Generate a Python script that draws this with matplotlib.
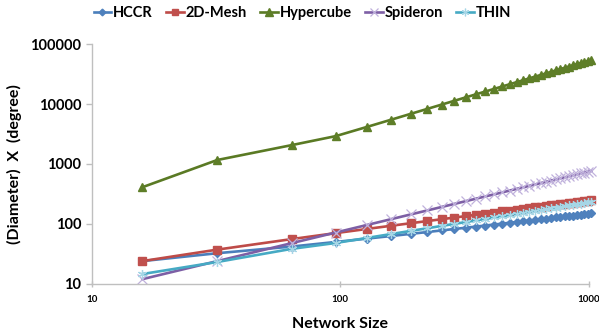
import matplotlib.pyplot as plt
from matplotlib.transforms import ScaledTranslation

plt.rcParams['font.family'] = ['Lato', 'DejaVu Sans']
plt.rcParams['font.weight'] = 'bold'

network_size = [16, 32, 64, 96, 128, 160, 192, 224, 256, 288, 320, 352, 384, 416, 448, 480,
                512, 544, 576, 608, 640, 672, 704, 736, 768, 800, 832, 864, 896, 928, 960, 992, 1024]

hccr = [24.0, 32.5, 42.0, 50.1, 56.9, 62.9, 68.3, 73.3, 78.0, 82.4, 86.5, 90.4, 94.2, 97.8, 101.2, 104.6,
        107.8, 110.9, 114.0, 116.9, 119.8, 122.6, 125.4, 128.1, 130.7, 133.3, 135.8, 138.3, 140.7, 143.1,
        145.4, 147.7, 150.0]

mesh_2d = [24, 37.3, 56, 70.4, 82.5, 93.2, 102.8, 111.7, 120, 127.8, 135.1, 142.1, 148.8, 155.2, 161.3,
           167.3, 173, 178.6, 184, 189.3, 194.4, 199.4, 204.3, 209, 213.7, 218.3, 222.8, 227.2, 231.5,
           235.7, 239.9, 244, 248]

hypercube = [410, 1165, 2070, 2920, 4150, 5470, 6860, 8300, 9800, 11340, 12930, 14550, 16200, 17900,
             19620, 21370, 23150, 24960, 26790, 28650, 30530, 32440, 34360, 36310, 38280, 40270, 42280,
             44300, 46350, 48400, 50480, 52570, 54690]

spideron = [12, 24, 48, 72, 96, 120, 144, 168, 192, 216, 240, 264, 288, 312, 336, 360, 384, 408, 432,
            456, 480, 504, 528, 552, 576, 600, 624, 648, 672, 696, 720, 744, 768]

thin = [14.6, 23.2, 38.5, 48.2, 58.4, 67.8, 76.5, 84.8, 92.7, 100.3, 107.6, 114.7, 121.5, 128.2, 134.7,
        141.0, 147.2, 153.2, 159.2, 165.1, 170.8, 176.5, 182.0, 187.5, 192.9, 198.2, 203.4, 208.6, 213.8,
        218.8, 223.8, 228.8, 233.7]

fig = plt.figure(figsize=(5.99, 3.34), dpi=100)
ax = fig.add_axes([0.153, 0.150, 0.830, 0.718])

lw = 1.9
ax.plot(network_size, hccr, color='#4a7ebb', lw=lw, marker='D', ms=4,
        mfc='#4f81bd', mec='#4f81bd', label='HCCR', clip_on=False)
ax.plot(network_size, mesh_2d, color='#be4b48', lw=lw, marker='s', ms=5.5,
        mfc='#c0504d', mec='#c0504d', label='2D-Mesh', clip_on=False)
ax.plot(network_size, hypercube, color='#5a7a24', lw=lw, marker='^', ms=6,
        mfc='#5e7e28', mec='#5e7e28', label='Hypercube', clip_on=False)
ax.plot(network_size, spideron, color='#7d5fa5', lw=lw, marker='x', ms=6.5, mew=0.9,
        mec='#c0b2dc', label='Spideron', clip_on=False)
ax.plot(network_size, thin, color='#46aac4', lw=lw, marker=(6, 2, 0), ms=6.5, mew=0.9,
        mec='#a6d6e6', label='THIN', clip_on=False)

ax.set_xscale('log')
ax.set_yscale('log')
ax.set_xlim(10, 1000)
ax.set_ylim(10, 100000)
ax.minorticks_off()

ax.set_xticks([10, 100, 1000])
ax.set_xticklabels(['10', '100', '1000'], fontsize=7, fontweight='bold')
ax.set_yticks([10, 100, 1000, 10000, 100000])
ax.set_yticklabels(['10', '100', '1000', '10000', '100000'], fontsize=10.5, fontweight='bold')

# pull the last x label in a little so it stays inside the figure
last = ax.get_xticklabels()[-1]
last.set_transform(last.get_transform() + ScaledTranslation(-3 / 100, 0, fig.dpi_scale_trans))

for side in ['top', 'right']:
    ax.spines[side].set_visible(False)
for side in ['left', 'bottom']:
    ax.spines[side].set_color('#bfbfbf')
    ax.spines[side].set_linewidth(1.0)
ax.tick_params(axis='both', color='#bfbfbf', length=4, width=1.0, direction='out')
ax.tick_params(axis='x', direction='inout', pad=6)

ax.set_xlabel('Network Size', fontsize=11.5, fontweight='bold', labelpad=9)
ax.set_ylabel('(Diameter)  X  (degree)', fontsize=11.5, fontweight='bold', labelpad=6)

fig.legend(loc='upper center', bbox_to_anchor=(0.505, 1.02), ncol=5, frameon=False,
           fontsize=10.5, handlelength=1.2, handletextpad=0.15, columnspacing=0.9,
           markerscale=0.85)

fig.savefig('out.png', dpi=100)
